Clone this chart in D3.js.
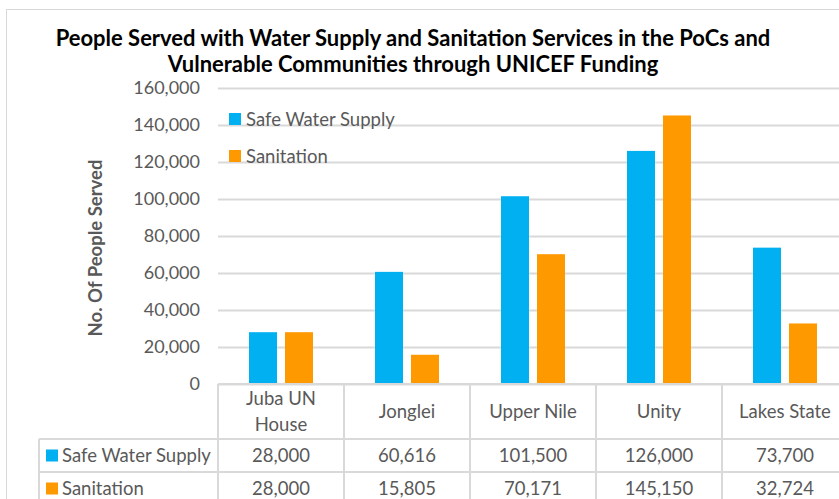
<!DOCTYPE html>
<html><head><meta charset="utf-8">
<script src="https://cdn.jsdelivr.net/npm/d3@7"></script>
<style>
body{margin:0;background:#fff;}
svg{display:block;font-family:Lato,"Noto Sans",sans-serif;}
</style></head>
<body><svg id="c" width="839" height="499"></svg>
<script>
const categories = ["Juba UN House","Jonglei","Upper Nile","Unity","Lakes State"];
const categoryLines = [["Juba UN","House"],["Jonglei"],["Upper Nile"],["Unity"],["Lakes State"]];
const seriesNames = ["Safe Water Supply","Sanitation"];
const safeWater = [28000,60616,101500,126000,73700];
const sanitation = [28000,15805,70171,145150,32724];
const yTicks = [0,20000,40000,60000,80000,100000,120000,140000,160000];
const titleLines = ["People Served with Water Supply and Sanitation Services in the PoCs and","Vulnerable Communities through UNICEF Funding"];
const yTitle = "No. Of People Served";

(function(){
const colors = {"Safe Water Supply":"#00B0F0","Sanitation":"#FF9900"};
const grid = "#d9d9d9", txt = "#595959";
const svg = d3.select("#c");
const fsTxt = "18.5px";

svg.append("rect").attr("x",6.5).attr("y",9.5).attr("width",900).attr("height",600)
  .attr("fill","#fff").attr("stroke","#d9d9d9").attr("stroke-width",1);

const pL = 218, pR = 848, pT = 88, pB = 384;
const x0 = d3.scaleBand().domain(categories).range([pL,pR]).padding(0);
const x1 = d3.scaleBand().domain(seriesNames).range([31,95]).paddingInner(0.222);
const y = d3.scaleLinear().domain([0,160000]).range([pB,pT]);

const gAxis = svg.append("g").attr("transform",`translate(${pL},0)`)
  .call(d3.axisLeft(y).tickValues(yTicks).tickSize(-(pR-pL)).tickFormat(""));
gAxis.select(".domain").remove();
gAxis.selectAll("line").attr("stroke",grid).attr("stroke-width",2);

const yAx = svg.append("g").attr("transform",`translate(200,0)`)
  .call(d3.axisLeft(y).tickValues(yTicks).tickSize(0).tickPadding(0).tickFormat(d3.format(",")));
yAx.select(".domain").remove();
yAx.selectAll("text").attr("fill",txt).style("font-size","18px").style("font-family","Lato,sans-serif");

const data = categories.map((c,i)=>({c, vals:[{s:"Safe Water Supply",v:safeWater[i]},{s:"Sanitation",v:sanitation[i]}]}));
const grp = svg.append("g").selectAll("g").data(data).join("g")
  .attr("transform",d=>`translate(${x0(d.c)},0)`);
grp.selectAll("rect").data(d=>d.vals).join("rect")
  .attr("x",d=>x1(d.s)).attr("width",x1.bandwidth())
  .attr("y",d=>y(d.v)).attr("height",d=>y(0)-y(d.v))
  .attr("fill",d=>colors[d.s]);

const tg = svg.append("g");
titleLines.forEach((t,i)=>{
  tg.append("text").attr("x",413).attr("y",46+i*26).attr("text-anchor","middle")
    .attr("font-weight","bold").attr("fill","#000").style("font-size","18px").text(t);
});
{
  const t0 = tg.select("text").node();
  const w = t0.getComputedTextLength();
  const fs = 18*715/w;
  tg.selectAll("text").style("font-size",fs.toFixed(2)+"px");
}

svg.append("text").attr("transform","translate(102,248) rotate(-90)")
  .attr("text-anchor","middle").attr("font-weight","bold").attr("fill",txt)
  .style("font-size","18.5px").text(yTitle);

seriesNames.forEach((s,i)=>{
  const ly = 119 + i*37;
  svg.append("rect").attr("x",229).attr("y",ly-6).attr("width",12).attr("height",12).attr("fill",colors[s]);
  svg.append("text").attr("x",246).attr("y",ly+7).attr("fill",txt).style("font-size",fsTxt).text(s);
});

const rowTops = [384,439,472,505];
const lineStyle = sel => sel.attr("stroke",grid).attr("stroke-width",2);
svg.append("line").attr("x1",pL).attr("x2",pR).attr("y1",rowTops[0]).attr("y2",rowTops[0]).call(lineStyle);
svg.append("line").attr("x1",39).attr("x2",pR).attr("y1",rowTops[1]).attr("y2",rowTops[1]).call(lineStyle);
svg.append("line").attr("x1",39).attr("x2",pR).attr("y1",rowTops[2]).attr("y2",rowTops[2]).call(lineStyle);
svg.append("line").attr("x1",39).attr("x2",39).attr("y1",rowTops[1]).attr("y2",rowTops[3]).call(lineStyle);
categories.forEach(c=>{
  svg.append("line").attr("x1",x0(c)).attr("x2",x0(c)).attr("y1",rowTops[0]).attr("y2",rowTops[3]).call(lineStyle);
});
categories.forEach((c,i)=>{
  const lines = categoryLines[i];
  const cx = x0(c)+x0.bandwidth()/2;
  lines.forEach((l,j)=>{
    const yy = lines.length===1 ? 418 : 405 + j*26;
    svg.append("text").attr("x",cx).attr("y",yy).attr("text-anchor","middle")
      .attr("fill",txt).style("font-size",fsTxt).text(l);
  });
});
const fmt = d3.format(",");
[safeWater,sanitation].forEach((vals,r)=>{
  const cy = (rowTops[r+1]+rowTops[r+2])/2;
  svg.append("rect").attr("x",46).attr("y",cy-6).attr("width",12).attr("height",12).attr("fill",colors[seriesNames[r]]);
  svg.append("text").attr("x",62).attr("y",cy+6.5).attr("fill",txt).style("font-size",fsTxt).text(seriesNames[r]);
  vals.forEach((v,i)=>{
    svg.append("text").attr("x",x0(categories[i])+x0.bandwidth()/2).attr("y",cy+6.5)
      .attr("text-anchor","middle").attr("fill",txt).style("font-size",fsTxt).text(fmt(v));
  });
});
})();
</script></body></html>
